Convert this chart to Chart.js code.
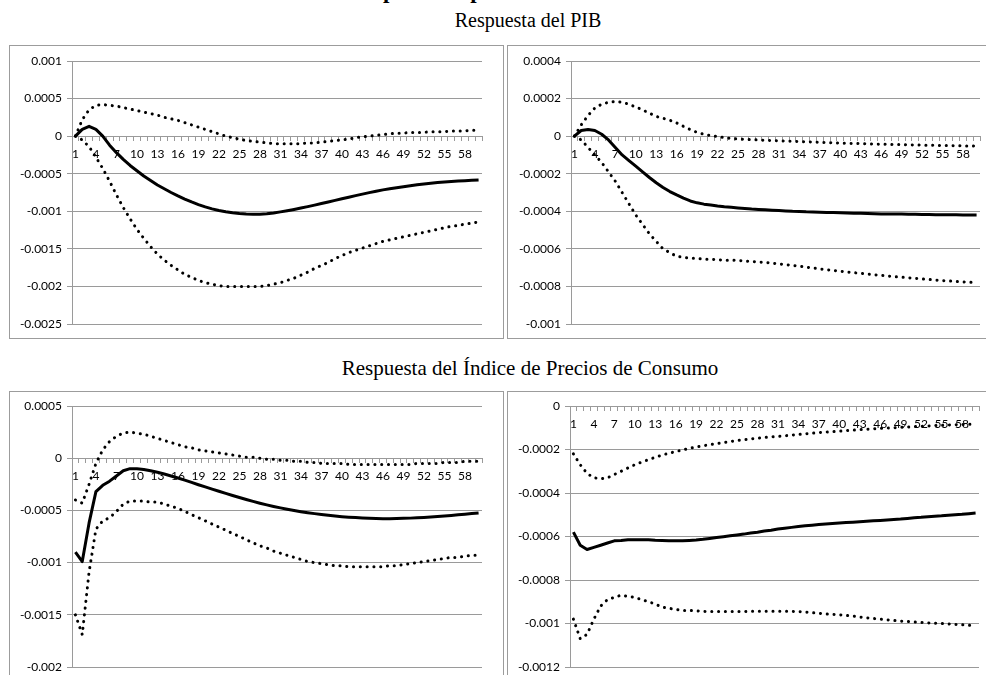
<!DOCTYPE html>
<html>
<head>
<meta charset="utf-8">
<script src="https://cdn.jsdelivr.net/npm/chart.js@4.4.1/dist/chart.umd.min.js"></script>
<style>
body { margin: 0; background: #fff; width: 986px; height: 675px; overflow: hidden; position: relative; }
.caja { position: absolute; border: 1px solid #9c9c9c; box-sizing: border-box; background: #fff; }
.caja canvas { display: block; }
.titulo { position: absolute; font-family: 'Liberation Serif', 'Times New Roman', serif; white-space: nowrap; color: #000; }
</style>
</head>
<body>

<div class="titulo" style="left:355px; top:-21px; font-size:23px; line-height:23px; font-weight:bold">Impulso respuesta</div>
<div class="titulo" style="left:528px; top:10px; font-size:20px; line-height:20px; transform:translateX(-50%)">Respuesta del PIB</div>
<div class="titulo" style="left:530px; top:358px; font-size:21px; line-height:21px; transform:translateX(-50%)">Respuesta del Índice de Precios de Consumo</div>

<div class="caja" style="left:9px; top:45px; width:495px; height:294px"><canvas id="chartPib1" width="493" height="292"></canvas></div>
<div class="caja" style="left:507px; top:45px; width:500px; height:294px"><canvas id="chartPib2" width="498" height="292"></canvas></div>
<div class="caja" style="left:9px; top:391px; width:495px; height:300px"><canvas id="chartIpc1" width="493" height="298"></canvas></div>
<div class="caja" style="left:507px; top:391px; width:500px; height:300px"><canvas id="chartIpc2" width="498" height="298"></canvas></div>

<script>
// periodos del horizonte de respuesta
const periodos = ['1','2','3','4','5','6','7','8','9','10','11','12','13','14','15','16','17','18','19','20',
  '21','22','23','24','25','26','27','28','29','30','31','32','33','34','35','36','37','38','39','40',
  '41','42','43','44','45','46','47','48','49','50','51','52','53','54','55','56','57','58','59','60']

// PIB, primer panel
const pib1Centro = [0, 0.00009, 0.00013, 0.00009, 0.0, -0.00012, -0.00022, -0.00031, -0.00039, -0.00046,
  -0.00053, -0.00059, -0.00065, -0.0007, -0.00075, -0.000795, -0.000837, -0.000876, -0.000911, -0.000942,
  -0.000968, -0.000989, -0.001006, -0.001019, -0.001029, -0.001036, -0.00104, -0.001039, -0.001033, -0.001022,
  -0.001008, -0.000992, -0.000975, -0.000957, -0.000938, -0.000918, -0.000897, -0.000876, -0.000855, -0.000834,
  -0.000813, -0.000792, -0.000772, -0.000752, -0.000733, -0.000715, -0.0007, -0.000686, -0.000673, -0.00066,
  -0.000648, -0.000637, -0.000627, -0.000618, -0.00061, -0.000603, -0.000597, -0.000592, -0.000587, -0.000583]
const pib1Sup = [0, 0.00022, 0.00035, 0.00041, 0.00042, 0.00041, 0.0004, 0.00038, 0.00036, 0.00034,
  0.00032, 0.0003, 0.00028, 0.00025, 0.00023, 0.00021, 0.00018, 0.00015, 0.00012, 0.00009,
  0.00006, 0.00003, 0.0, -0.00002, -0.00004, -0.00006, -0.00007, -0.00008, -0.00009, -0.0001,
  -0.0001, -0.0001, -0.0001, -0.0001, -0.00009, -0.00009, -0.00008, -0.00007, -0.00006, -0.00005,
  -0.00004, -0.00002, -0.00001, 0, 0.00001, 0.00002, 0.00003, 0.00004, 0.00004, 0.00005,
  0.00005, 0.00005, 0.00006, 0.00006, 0.00006, 0.00007, 0.00007, 0.00007, 0.00008, 0.00008]
const pib1Inf = [0, -0.00005, -0.00014, -0.00028, -0.00043, -0.0006, -0.00078, -0.00095, -0.0011, -0.00124,
  -0.00136, -0.00147, -0.00157, -0.00165, -0.00172, -0.00178, -0.00184, -0.00188, -0.00192, -0.00195,
  -0.00197, -0.00199, -0.002, -0.002, -0.002, -0.002, -0.002, -0.002, -0.00199, -0.00197,
  -0.00195, -0.00192, -0.00189, -0.00185, -0.00181, -0.00176, -0.00172, -0.00168, -0.00163, -0.00159,
  -0.00155, -0.00152, -0.00149, -0.00146, -0.00143, -0.0014, -0.00138, -0.00136, -0.00134, -0.00132,
  -0.0013, -0.00128, -0.00126, -0.00124, -0.00122, -0.0012, -0.00119, -0.00117, -0.00116, -0.00114]
const pib1Ticks = ['0.001', '0.0005', '0', '-0.0005', '-0.001', '-0.0015', '-0.002', '-0.0025']

// PIB, segundo panel
const pib2Centro = [0, 0.00003, 0.000035, 0.00003, 0.00001, -0.00002, -0.00006, -0.0001, -0.00013, -0.00016,
  -0.00019, -0.00022, -0.000248, -0.000273, -0.000295, -0.000313, -0.00033, -0.000345, -0.000355, -0.000362,
  -0.000367, -0.000372, -0.000376, -0.000379, -0.000382, -0.000385, -0.000388, -0.00039, -0.000392, -0.000394,
  -0.000396, -0.000398, -0.0004, -0.000401, -0.000403, -0.000404, -0.000405, -0.000406, -0.000407, -0.000408,
  -0.000409, -0.00041, -0.000411, -0.000412, -0.000413, -0.000414, -0.000414, -0.000415, -0.000415, -0.000416,
  -0.000416, -0.000417, -0.000417, -0.000418, -0.000418, -0.000419, -0.000419, -0.00042, -0.00042, -0.00042]
const pib2Sup = [0, 0.00006, 0.00011, 0.00015, 0.00017, 0.00018, 0.000185, 0.00018, 0.00017, 0.000155,
  0.00014, 0.000122, 0.000105, 0.000095, 0.000085, 0.00007, 0.000052, 0.000035, 0.00002, 0.00001,
  0.000003, -0.000002, -0.000008, -0.000012, -0.000015, -0.000017, -0.000019, -0.00002, -0.000022, -0.000023,
  -0.000025, -0.000026, -0.000027, -0.000029, -0.00003, -0.000031, -0.000033, -0.000034, -0.000036, -0.000037,
  -0.000038, -0.000039, -0.00004, -0.000041, -0.000042, -0.000043, -0.000044, -0.000045, -0.000045, -0.000046,
  -0.000047, -0.000048, -0.000048, -0.000049, -0.00005, -0.00005, -0.000051, -0.000052, -0.000052, -0.000053]
const pib2Inf = [0, -0.00002, -0.00006, -0.0001, -0.00014, -0.00019, -0.00024, -0.0003, -0.00036, -0.00042,
  -0.00047, -0.00052, -0.00056, -0.0006, -0.00062, -0.00064, -0.000645, -0.00065, -0.00065, -0.000655,
  -0.000655, -0.000658, -0.00066, -0.00066, -0.000662, -0.000665, -0.000667, -0.00067, -0.000672, -0.000676,
  -0.00068, -0.000684, -0.000688, -0.000692, -0.000697, -0.000702, -0.000707, -0.000711, -0.000715, -0.000719,
  -0.000723, -0.000727, -0.00073, -0.000734, -0.000738, -0.000741, -0.000745, -0.000748, -0.000751, -0.000754,
  -0.000757, -0.00076, -0.000763, -0.000766, -0.000769, -0.000771, -0.000774, -0.000776, -0.000778, -0.00078]
const pib2Ticks = ['0.0004', '0.0002', '0', '-0.0002', '-0.0004', '-0.0006', '-0.0008', '-0.001']

// IPC, primer panel
const ipc1Centro = [-0.0009, -0.00099, -0.00062, -0.00032, -0.00026, -0.00022, -0.00017, -0.00012, -0.0001, -0.0001,
  -0.000108, -0.00012, -0.000135, -0.000152, -0.00017, -0.00019, -0.00021, -0.000232, -0.000254, -0.000275,
  -0.000296, -0.000317, -0.000337, -0.000357, -0.000377, -0.000396, -0.000414, -0.000431, -0.000447, -0.000462,
  -0.000476, -0.000489, -0.000501, -0.000512, -0.000522, -0.000531, -0.000539, -0.000547, -0.000554, -0.00056,
  -0.000565, -0.000569, -0.000573, -0.000576, -0.000578, -0.000579, -0.000579, -0.000578, -0.000576, -0.000574,
  -0.000571, -0.000567, -0.000563, -0.000558, -0.000553, -0.000548, -0.000542, -0.000536, -0.00053, -0.000524]
const ipc1Sup = [-0.0004, -0.00043, -0.00025, -0.00005, 0.00008, 0.00016, 0.00021, 0.00024, 0.00025, 0.00024,
  0.00023, 0.00021, 0.00019, 0.00017, 0.00015, 0.00013, 0.00011, 0.0001, 0.00008, 0.00007,
  0.00006, 0.00005, 0.00004, 0.00003, 0.00002, 0.00001, 0.00001, 0, -0.00001, -0.00001,
  -0.00002, -0.00002, -0.00003, -0.00003, -0.00004, -0.00004, -0.00005, -0.00005, -0.00005, -0.00005,
  -0.00006, -0.00006, -0.00006, -0.00006, -0.00006, -0.00006, -0.00006, -0.00006, -0.00006, -0.00006,
  -0.00005, -0.00005, -0.00005, -0.00005, -0.00004, -0.00004, -0.00004, -0.00003, -0.00003, -0.00003]
const ipc1Inf = [-0.0015, -0.00169, -0.00109, -0.00068, -0.0006, -0.00057, -0.00051, -0.00044, -0.00041, -0.00041,
  -0.00041, -0.00042, -0.00042, -0.00044, -0.00046, -0.00048, -0.00051, -0.00054, -0.00057, -0.0006,
  -0.00063, -0.00066, -0.00069, -0.00072, -0.00075, -0.00078, -0.00081, -0.00084, -0.00086, -0.00089,
  -0.00091, -0.00093, -0.00095, -0.00097, -0.00099, -0.001, -0.00101, -0.00102, -0.00103, -0.00103,
  -0.00104, -0.00104, -0.00104, -0.00104, -0.00104, -0.00104, -0.00103, -0.00103, -0.00102, -0.00101,
  -0.001, -0.00099, -0.00098, -0.00097, -0.00096, -0.00095, -0.00095, -0.00094, -0.00093, -0.00093]
const ipc1Ticks = ['0.0005', '0', '-0.0005', '-0.001', '-0.0015', '-0.002']

// IPC, segundo panel
const ipc2Centro = [-0.00058, -0.00064, -0.00066, -0.00065, -0.00064, -0.00063, -0.00062, -0.000618, -0.000615, -0.000615,
  -0.000615, -0.000615, -0.000617, -0.000618, -0.00062, -0.00062, -0.00062, -0.000618, -0.000616, -0.000613,
  -0.000609, -0.000605, -0.000601, -0.000597, -0.000593, -0.000589, -0.000584, -0.00058, -0.000575, -0.000571,
  -0.000566, -0.000562, -0.000558, -0.000554, -0.000551, -0.000548, -0.000545, -0.000542, -0.00054, -0.000538,
  -0.000536, -0.000534, -0.000532, -0.00053, -0.000528, -0.000526, -0.000524, -0.000522, -0.00052, -0.000517,
  -0.000514, -0.000512, -0.000509, -0.000507, -0.000505, -0.000502, -0.0005, -0.000498, -0.000495, -0.000492]
const ipc2Sup = [-0.00022, -0.00027, -0.00031, -0.00033, -0.000335, -0.00033, -0.000315, -0.0003, -0.000285, -0.00027,
  -0.000258, -0.000247, -0.000236, -0.000226, -0.000217, -0.00021, -0.000202, -0.000195, -0.000188, -0.000183,
  -0.000178, -0.000173, -0.000168, -0.000163, -0.000159, -0.000155, -0.000151, -0.000148, -0.000145, -0.000142,
  -0.00014, -0.000137, -0.000134, -0.000131, -0.000128, -0.000125, -0.000122, -0.00012, -0.000118, -0.000116,
  -0.000113, -0.000111, -0.000109, -0.000107, -0.000105, -0.000103, -0.000101, -0.0001, -0.000098, -0.000097,
  -0.000095, -0.000093, -0.000092, -0.00009, -0.000089, -0.000087, -0.000086, -0.000085, -0.000084, -0.000083]
const ipc2Inf = [-0.00098, -0.00107, -0.00105, -0.00098, -0.00092, -0.00089, -0.00088, -0.00087, -0.000875, -0.00088,
  -0.00089, -0.0009, -0.00091, -0.000925, -0.00093, -0.000935, -0.00094, -0.00094, -0.000942, -0.000944,
  -0.000945, -0.000945, -0.000945, -0.000945, -0.000945, -0.000945, -0.000944, -0.000944, -0.000944, -0.000944,
  -0.000944, -0.000944, -0.000944, -0.000945, -0.000947, -0.00095, -0.000953, -0.000956, -0.000958, -0.00096,
  -0.000963, -0.000966, -0.00097, -0.000974, -0.000977, -0.00098, -0.000983, -0.000986, -0.000989, -0.000991,
  -0.000993, -0.000995, -0.000997, -0.000999, -0.001, -0.001002, -0.001004, -0.001006, -0.001008, -0.00101]
const ipc2Ticks = ['0', '-0.0002', '-0.0004', '-0.0006', '-0.0008', '-0.001', '-0.0012']

const gris = '#9a9a9a'
const fuente = { family: 'Lato', size: 12 }

fntGrafica = (id, centro, sup, inf, etiquetas, padding, anchoEje) => {
  const ctx = document.getElementById(id)
  const punteado = (datos) => ({
    data: datos,
    borderColor: '#000',
    borderWidth: 3,
    borderDash: [0.1, 6.7],
    borderCapStyle: 'round',
    pointRadius: 0,
    fill: false
  })
  const valores = etiquetas.map(t => parseFloat(t))
  new Chart(ctx, {
    type: 'line',
    data: {
      labels: periodos,
      datasets: [
        punteado(sup),
        punteado(inf),
        {
          data: centro,
          borderColor: '#000',
          borderWidth: 3,
          borderJoinStyle: 'round',
          pointRadius: 0,
          fill: false
        }
      ]
    },
    options: {
      responsive: false,
      animation: false,
      events: [],
      layout: { padding: padding },
      plugins: { legend: { display: false }, tooltip: { enabled: false } },
      scales: {
        x: {
          position: { y: 0 },
          offset: true,
          grid: { drawOnChartArea: false, drawTicks: true, tickLength: 4, color: gris, offset: true },
          border: { color: gris, width: 1 },
          ticks: {
            autoSkip: false,
            maxRotation: 0,
            padding: 7,
            color: '#000',
            font: fuente,
            callback: (v, i) => i % 3 === 0 ? periodos[i] : ''
          }
        },
        y: {
          min: Math.min(...valores),
          max: Math.max(...valores),
          afterBuildTicks: s => { s.ticks = valores.slice().sort((a, b) => a - b).map(v => ({ value: v })) },
          afterFit: s => { s.width = anchoEje },
          grid: { color: gris, tickLength: 5 },
          border: { color: gris, width: 1 },
          ticks: {
            padding: 5,
            color: '#000',
            font: fuente,
            callback: v => etiquetas[valores.findIndex(x => Math.abs(x - v) < 1e-9)]
          }
        }
      }
    }
  })
}

document.addEventListener('DOMContentLoaded', function () {
  fntGrafica('chartPib1', pib1Centro, pib1Sup, pib1Inf, pib1Ticks, { left: 0, right: 21, top: 15, bottom: 14 }, 62)
  fntGrafica('chartPib2', pib2Centro, pib2Sup, pib2Inf, pib2Ticks, { left: 0, right: 26, top: 15, bottom: 14 }, 63)
  fntGrafica('chartIpc1', ipc1Centro, ipc1Sup, ipc1Inf, ipc1Ticks, { left: 0, right: 21, top: 14, bottom: 23 }, 62)
  fntGrafica('chartIpc2', ipc2Centro, ipc2Sup, ipc2Inf, ipc2Ticks, { left: 0, right: 27, top: 14, bottom: 23 }, 62)
}, false)
</script>
</body>
</html>
